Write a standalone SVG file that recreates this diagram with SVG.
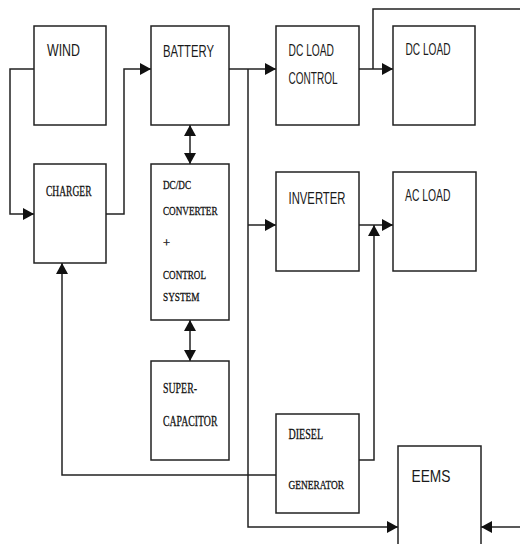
<svg xmlns="http://www.w3.org/2000/svg" width="520" height="544" viewBox="0 0 520 544">
<style>
.box{fill:#fff;stroke:#222;stroke-width:1.5}
.ln{fill:none;stroke:#222;stroke-width:1.5}
.s{font-family:"Liberation Sans Narrow","Liberation Sans",Arial,sans-serif;font-size:17px;fill:#1a1a1a}
.r{font-family:"Liberation Serif","Times New Roman",serif;fill:#111;stroke:#111;stroke-width:0.3}
</style>
<defs>
<marker id="ah" markerUnits="userSpaceOnUse" markerWidth="12" markerHeight="12" refX="11" refY="6" orient="auto-start-reverse" viewBox="0 0 12 12">
<path d="M0,0 L11,6 L0,12 Z" fill="#111"/>
</marker>
</defs>
<rect width="520" height="544" fill="#fff"/>
<g id="connectors">
<path class="ln" d="M34,69 H10 V214 H34" marker-end="url(#ah)"/>
<path class="ln" d="M106,214 H124 V69 H151" marker-end="url(#ah)"/>
<path class="ln" d="M190,125 V164" marker-start="url(#ah)" marker-end="url(#ah)"/>
<path class="ln" d="M190,320 V361" marker-start="url(#ah)" marker-end="url(#ah)"/>
<path class="ln" d="M229,69 H276" marker-end="url(#ah)"/>
<path class="ln" d="M248,69 V527 H398" marker-end="url(#ah)"/>
<path class="ln" d="M248,225 H276" marker-end="url(#ah)"/>
<path class="ln" d="M359,69 H393" marker-end="url(#ah)"/>
<path class="ln" d="M373,69 V9 H520"/>
<path class="ln" d="M359,225 H393" marker-end="url(#ah)"/>
<path class="ln" d="M359,460 H374 V225" marker-end="url(#ah)"/>
<path class="ln" d="M276,475 H62 V263" marker-end="url(#ah)"/>
<path class="ln" d="M520,527 H481" marker-end="url(#ah)"/>
</g>
<g id="wind"><rect class="box" x="34" y="26" width="72" height="99"/><text class="s" x="47" y="55.5" textLength="33" lengthAdjust="spacingAndGlyphs">WIND</text></g>
<g id="battery"><rect class="box" x="151" y="26" width="78" height="99"/><text class="s" x="163" y="57" textLength="51" lengthAdjust="spacingAndGlyphs">BATTERY</text></g>
<g id="dcloadcontrol"><rect class="box" x="276" y="26" width="83" height="99"/><text class="s" x="288.5" y="56" textLength="45.5" lengthAdjust="spacingAndGlyphs">DC LOAD</text><text class="s" x="288.5" y="83.5" textLength="49" lengthAdjust="spacingAndGlyphs">CONTROL</text></g>
<g id="dcload"><rect class="box" x="393" y="26" width="82" height="99"/><text class="s" x="405.5" y="54.5" textLength="45" lengthAdjust="spacingAndGlyphs">DC LOAD</text></g>
<g id="charger"><rect class="box" x="34" y="164" width="72" height="99"/><text class="r" x="46" y="196" font-size="14" textLength="45.5" lengthAdjust="spacingAndGlyphs">CHARGER</text></g>
<g id="dcdc"><rect class="box" x="151" y="164" width="78" height="156"/>
<text class="r" x="163" y="188.5" font-size="12" textLength="28" lengthAdjust="spacingAndGlyphs">DC/DC</text>
<text class="r" x="163" y="214.5" font-size="12.5" textLength="54.5" lengthAdjust="spacingAndGlyphs">CONVERTER</text>
<text class="r" x="163" y="247" font-size="12.5">+</text>
<text class="r" x="163" y="279" font-size="12.5" textLength="43" lengthAdjust="spacingAndGlyphs">CONTROL</text>
<text class="r" x="163" y="301" font-size="12.5" textLength="36.5" lengthAdjust="spacingAndGlyphs">SYSTEM</text></g>
<g id="inverter"><rect class="box" x="276" y="172" width="83" height="99"/><text class="s" x="288.5" y="203.5" textLength="57" lengthAdjust="spacingAndGlyphs">INVERTER</text></g>
<g id="acload"><rect class="box" x="393" y="172" width="83" height="99"/><text class="s" x="405" y="201" textLength="45.5" lengthAdjust="spacingAndGlyphs">AC LOAD</text></g>
<g id="supercap"><rect class="box" x="151" y="361" width="78" height="99"/>
<text class="r" x="163" y="392.5" font-size="14.5" textLength="34" lengthAdjust="spacingAndGlyphs">SUPER-</text>
<text class="r" x="163" y="426" font-size="15" textLength="54.5" lengthAdjust="spacingAndGlyphs">CAPACITOR</text></g>
<g id="diesel"><rect class="box" x="276" y="414" width="83" height="99"/>
<text class="r" x="288.5" y="438.5" font-size="14.5" textLength="34.5" lengthAdjust="spacingAndGlyphs">DIESEL</text>
<text class="r" x="288.5" y="488.5" font-size="13" textLength="55.5" lengthAdjust="spacingAndGlyphs">GENERATOR</text></g>
<g id="eems"><rect class="box" x="398" y="446" width="83" height="110"/><text class="s" x="411.5" y="481.5" font-size="23" textLength="39" lengthAdjust="spacingAndGlyphs">EEMS</text></g>
</svg>
